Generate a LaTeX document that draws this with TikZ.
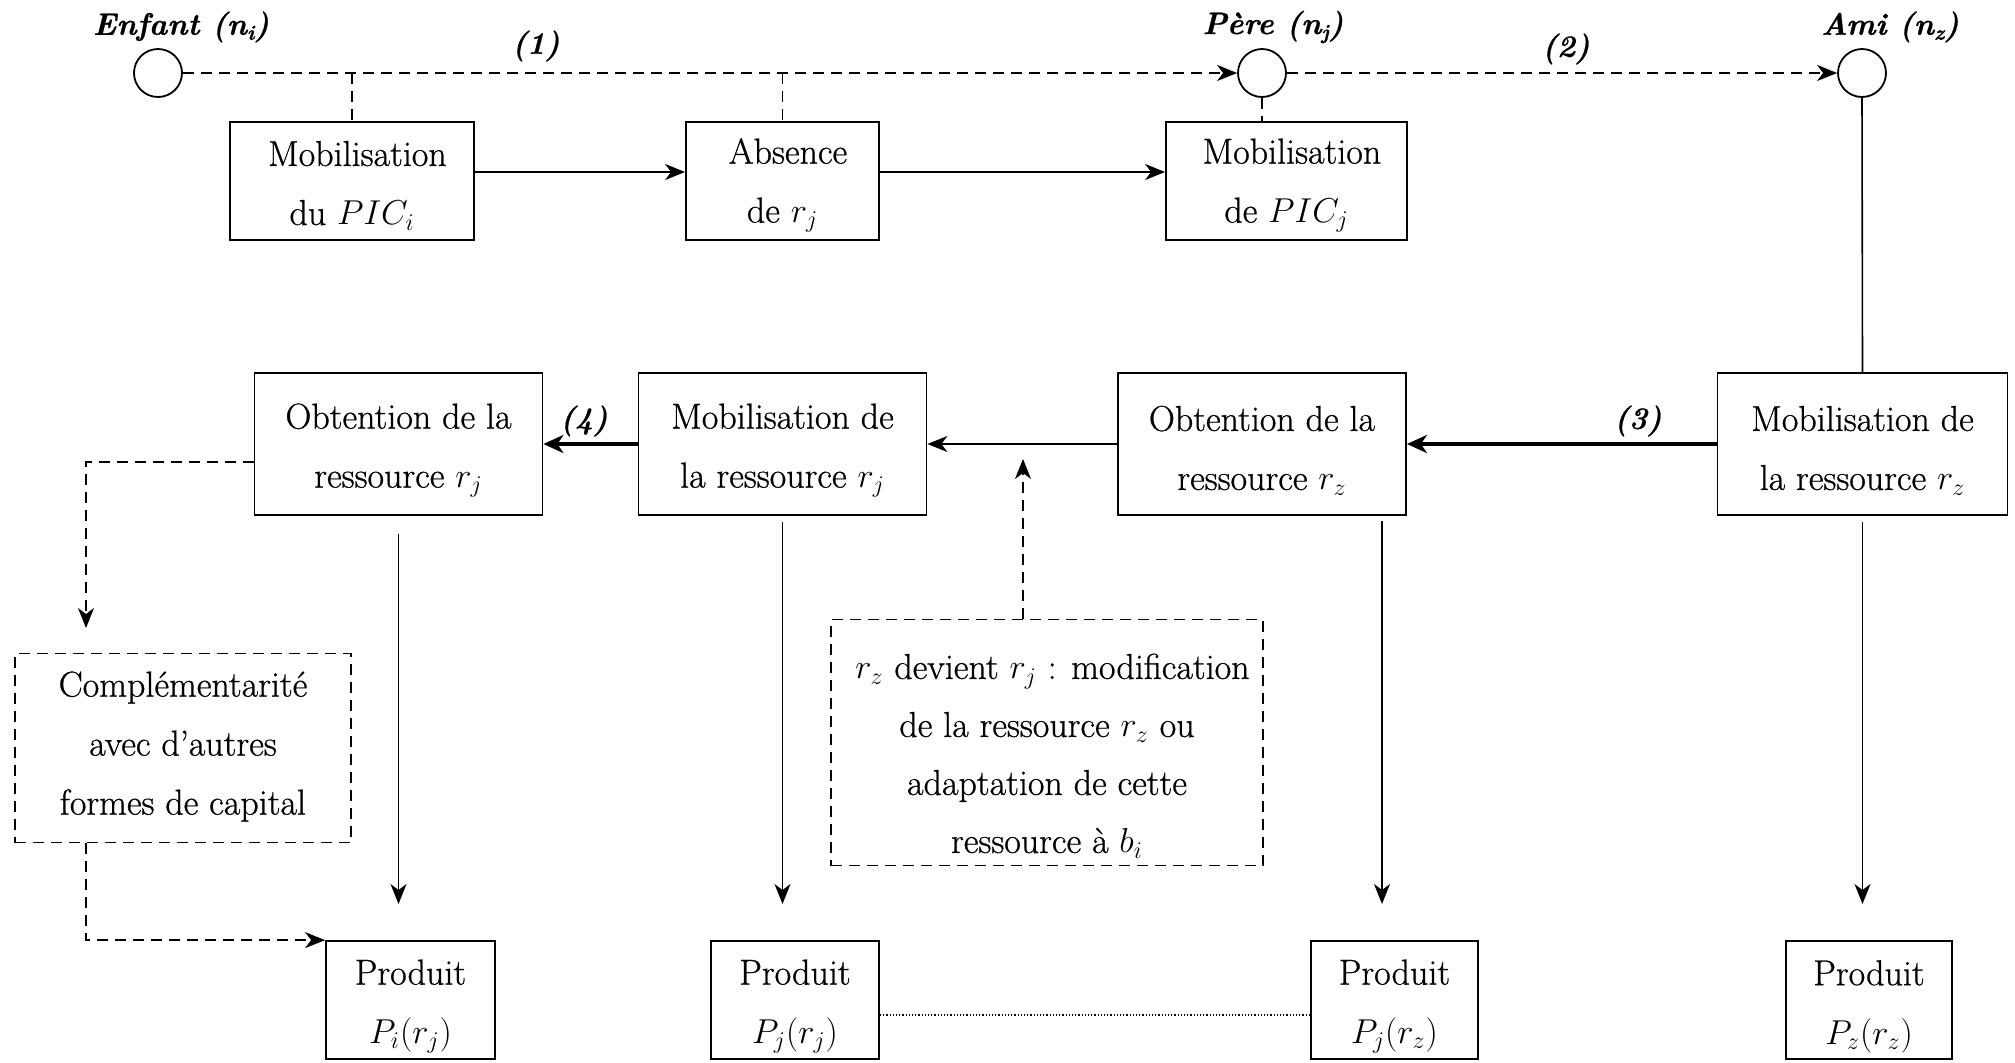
\documentclass[tikz,border=0pt]{standalone}
\usepackage{fontspec}
\setmainfont{Latin Modern Roman}[FakeBold=0.7]
\usetikzlibrary{arrows.meta}
\newcommand{\tst}[1][19pt]{\rule{0pt}{#1}}
\newcommand{\bst}[1]{\rule[-#1]{0pt}{#1}}
\newcommand{\lsub}[1]{\lower2.5pt\hbox{\fontsize{10.5}{12}\selectfont #1}}
\begin{document}
\begin{tikzpicture}[x=0.5pt,y=-0.5pt,
  txt/.style={font=\fontsize{18}{29.5}\selectfont, align=center, inner sep=0pt},
  box/.style={txt, draw, line width=0.9pt},
  dbox/.style={txt, draw, line width=0.9pt, dash pattern=on 5.5pt off 3.5pt},
  actor/.style={circle, draw, line width=0.9pt, minimum size=24pt, inner sep=0pt},
  lbl/.style={font=\fontsize{15.5}{18}\selectfont\bfseries\itshape, inner sep=0pt},
  arr/.style={line width=0.8pt, -{Stealth[length=10pt,width=8pt,inset=3pt]}},
  thk/.style={line width=2.4pt, -{Stealth[length=10pt,width=9pt,inset=3pt]}},
  dsh/.style={line width=0.8pt, dash pattern=on 5.5pt off 3.5pt},
  darr/.style={dsh, -{Stealth[length=10pt,width=8pt,inset=3pt]}}
]
\useasboundingbox (0,0) rectangle (2015,1062);

% actors
\node[actor] (enf) at (158,73) {};
\node[actor] (pere) at (1262,73) {};
\node[actor] (ami) at (1862,73) {};
\node[lbl] (lenf) at (181,27) {Enfant (n\lsub{i})};
\node[lbl] (lpere) at (1273,27) {Père (n\lsub{j})};
\node[lbl] (lami) at (1890,27) {Ami (n\lsub{z})};
\node[lbl] (l1) at (536,46) {(1)};
\node[lbl] (l2) at (1566,49) {(2)};

% top row boxes
\node[box, minimum width=122pt, minimum height=59pt] (b1) at (352,181) {\tst[17pt] Mobilisation\\du $PIC_i$};
\node[box, minimum width=96.5pt, minimum height=59pt] (b2) at (782.5,181) {\tst[17pt] Absence\\de $r_j$};
\node[box, minimum width=120.5pt, minimum height=59pt] (b3) at (1286.5,181) {\tst[17pt] Mobilisation\\de $PIC_j$};

% middle row boxes
\node[box, minimum width=144pt, minimum height=71pt] (m1) at (398.5,444) {\tst Obtention de la\\ressource $r_j$};
\node[box, minimum width=144pt, minimum height=71pt] (m2) at (782.5,444) {\tst Mobilisation de\\la ressource $r_j$};
\node[box, minimum width=144pt, minimum height=71pt] (m3) at (1262,444) {\tst Obtention de la\\ressource $r_z$};
\node[box, minimum width=145pt, minimum height=71pt] (m4) at (1862.5,444) {\tst Mobilisation de\\la ressource $r_z$};
\node[lbl] (l3) at (1638,421) {(3)};
\node[lbl] (l4) at (584,421) {(4)};

% dashed boxes
\node[dbox, font=\fontsize{18}{29}\selectfont, minimum width=216pt, minimum height=123pt] (d1) at (1047,742.5) {\tst[26pt] $r_z$ devient $r_j$ : modification\\de la ressource $r_z$ ou\\adaptation de cette\\ressource à $b_i$};
\node[dbox, minimum width=168pt, minimum height=94.5pt] (comp) at (183,748) {Complémentarité\\avec d'autres\\formes de capital\bst{5pt}};

% products
\node[box, minimum width=84.5pt, minimum height=59pt] (p1) at (410.5,1000) {\tst Produit\\$P_i(r_j)$};
\node[box, minimum width=84pt, minimum height=59pt] (p2) at (795,1000) {\tst Produit\\$P_j(r_j)$};
\node[box, minimum width=83.5pt, minimum height=59pt] (p3) at (1394.5,1000) {\tst Produit\\$P_j(r_z)$};
\node[box, minimum width=83pt, minimum height=59pt] (p4) at (1869,1000) {\tst Produit\\$P_z(r_z)$};

% helper coordinates
\coordinate (tipy) at (0,904);
\coordinate (dtip) at (1023,459);
\coordinate (c1) at (86,628);
\coordinate (a3) at (1382,521);

% top connectors
\draw[darr] (enf.east) -- (pere.west);
\draw[darr] (pere.east) -- (ami.west);
\draw[dsh] (b1.north |- enf) -- (b1.north);
\draw[dsh] (b2.north |- enf) -- (b2.north);
\draw[dsh] (pere.south) -- (pere.south |- b3.north);
\draw[arr] ([yshift=4.5pt]b1.east) -- ([yshift=4.5pt]b2.west);
\draw[arr] ([yshift=4.5pt]b2.east) -- ([yshift=4.5pt]b3.west);
\draw[line width=0.8pt] (ami.south) -- (m4.north);

% middle connectors
\draw[thk] (m4.west) -- (m3.east);
\draw[arr] (m3.west) -- (m2.east);
\draw[thk] (m2.west) -- (m1.east);
\draw[darr] (dtip |- d1.north) -- (dtip);
\draw[darr] ([yshift=-9pt]m1.west) -| (c1);
\draw[darr] (c1 |- comp.south) |- (p1.north west);

% down arrows
\draw[arr] ([yshift=-9pt]m1.south) -- (m1.south |- tipy);
\draw[arr] ([yshift=-3pt]m2.south) -- (m2.south |- tipy);
\draw[arr] (a3) -- (a3 |- tipy);
\draw[arr] ([yshift=-3pt]m4.south) -- (m4.south |- tipy);

% dotted link
\draw[line width=0.6pt, densely dotted] ([yshift=-7.5pt]p2.east) -- ([yshift=-7.5pt]p3.west);
\end{tikzpicture}
\end{document}
